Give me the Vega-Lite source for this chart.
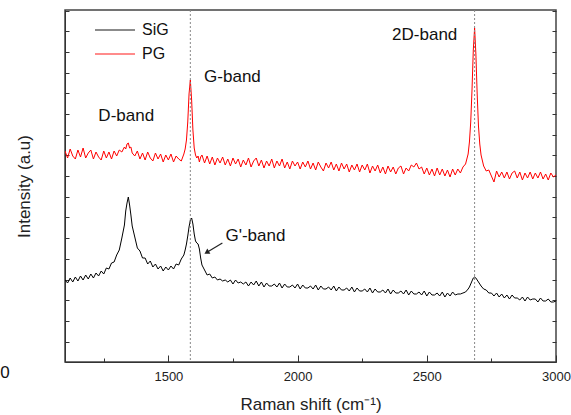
{
"$schema":"https://vega.github.io/schema/vega-lite/v6.json",
"width":491,"height":352,
"autosize":{"type":"none"},
"padding":{"left":65,"top":10,"right":15,"bottom":53},
"config":{"font":"Liberation Sans","view":{"stroke":"#444","strokeWidth":1.5},
 "axis":{"domainColor":"#333","tickColor":"#333","labelColor":"#222","titleColor":"#222","grid":false,"labelFontSize":13,"titleFontSize":17,"titleFontWeight":"normal"}},
"layer":[
{"data":{"values":[
{"x":1100,"PG":211,"SiG":82},{"x":1110,"PG":204,"SiG":79},{"x":1120,"PG":213,"SiG":84},{"x":1130,"PG":206,"SiG":80},{"x":1140,"PG":203,"SiG":85},{"x":1150,"PG":212,"SiG":81},{"x":1160,"PG":205,"SiG":86},{"x":1170,"PG":214,"SiG":82},{"x":1180,"PG":204,"SiG":87},{"x":1190,"PG":209,"SiG":83},
{"x":1200,"PG":212,"SiG":88},{"x":1210,"PG":203,"SiG":84},{"x":1220,"PG":210,"SiG":89},{"x":1230,"PG":205,"SiG":86},{"x":1240,"PG":202,"SiG":91},{"x":1250,"PG":211,"SiG":88},{"x":1260,"PG":204,"SiG":94},{"x":1270,"PG":210,"SiG":93},{"x":1280,"PG":203,"SiG":99},{"x":1290,"PG":211,"SiG":100},
{"x":1300,"PG":206,"SiG":107},{"x":1310,"PG":212,"SiG":112},{"x":1320,"PG":210,"SiG":124},{"x":1330,"PG":215,"SiG":137},{"x":1335,"PG":213,"SiG":151},{"x":1340,"PG":218,"SiG":159},{"x":1345,"PG":219,"SiG":165},{"x":1350,"PG":214,"SiG":157},{"x":1355,"PG":215,"SiG":147},{"x":1360,"PG":209,"SiG":136},
{"x":1370,"PG":206,"SiG":125},{"x":1380,"PG":211,"SiG":114},{"x":1390,"PG":203,"SiG":111},{"x":1400,"PG":209,"SiG":104},{"x":1410,"PG":202,"SiG":104},{"x":1420,"PG":210,"SiG":98},{"x":1430,"PG":204,"SiG":101},{"x":1440,"PG":201,"SiG":95},{"x":1450,"PG":209,"SiG":98},{"x":1460,"PG":203,"SiG":93},
{"x":1470,"PG":208,"SiG":96},{"x":1480,"PG":200,"SiG":91},{"x":1490,"PG":207,"SiG":95},{"x":1500,"PG":202,"SiG":92},{"x":1510,"PG":208,"SiG":96},{"x":1520,"PG":200,"SiG":93},{"x":1530,"PG":206,"SiG":98},{"x":1540,"PG":203,"SiG":97},{"x":1550,"PG":201,"SiG":103},{"x":1560,"PG":208,"SiG":107},
{"x":1565,"PG":213,"SiG":112},{"x":1570,"PG":222,"SiG":118},{"x":1575,"PG":240,"SiG":126},{"x":1580,"PG":268,"SiG":135},{"x":1585,"PG":282,"SiG":142},{"x":1590,"PG":262,"SiG":144},{"x":1595,"PG":232,"SiG":138},{"x":1600,"PG":214,"SiG":128},{"x":1605,"PG":207,"SiG":121},{"x":1610,"PG":204,"SiG":119},
{"x":1615,"PG":206,"SiG":118},{"x":1620,"PG":200,"SiG":113},{"x":1625,"PG":205,"SiG":104},{"x":1630,"PG":207,"SiG":97},{"x":1640,"PG":199,"SiG":92},{"x":1650,"PG":206,"SiG":87},{"x":1660,"PG":198,"SiG":88},{"x":1670,"PG":205,"SiG":84},{"x":1680,"PG":197,"SiG":85},{"x":1690,"PG":204,"SiG":82},
{"x":1700,"PG":199,"SiG":83},{"x":1710,"PG":205,"SiG":81},{"x":1720,"PG":197,"SiG":82},{"x":1730,"PG":203,"SiG":80},{"x":1740,"PG":196,"SiG":82},{"x":1750,"PG":204,"SiG":78},{"x":1760,"PG":198,"SiG":82},{"x":1770,"PG":203,"SiG":79},{"x":1780,"PG":195,"SiG":80},{"x":1790,"PG":202,"SiG":78},
{"x":1800,"PG":197,"SiG":80},{"x":1810,"PG":204,"SiG":76},{"x":1820,"PG":195,"SiG":80},{"x":1830,"PG":201,"SiG":77},{"x":1840,"PG":204,"SiG":81},{"x":1850,"PG":196,"SiG":76},{"x":1860,"PG":202,"SiG":80},{"x":1870,"PG":194,"SiG":75},{"x":1880,"PG":201,"SiG":79},{"x":1890,"PG":196,"SiG":76},
{"x":1900,"PG":203,"SiG":76},{"x":1910,"PG":194,"SiG":78},{"x":1920,"PG":201,"SiG":75},{"x":1930,"PG":196,"SiG":79},{"x":1940,"PG":203,"SiG":74},{"x":1950,"PG":194,"SiG":78},{"x":1960,"PG":200,"SiG":75},{"x":1970,"PG":193,"SiG":75},{"x":1980,"PG":201,"SiG":77},{"x":1990,"PG":196,"SiG":74},
{"x":2000,"PG":200,"SiG":78},{"x":2010,"PG":193,"SiG":73},{"x":2020,"PG":200,"SiG":77},{"x":2030,"PG":195,"SiG":74},{"x":2040,"PG":201,"SiG":74},{"x":2050,"PG":193,"SiG":76},{"x":2060,"PG":199,"SiG":73},{"x":2070,"PG":192,"SiG":77},{"x":2080,"PG":200,"SiG":72},{"x":2090,"PG":195,"SiG":76},
{"x":2100,"PG":191,"SiG":73},{"x":2110,"PG":199,"SiG":73},{"x":2120,"PG":194,"SiG":75},{"x":2130,"PG":200,"SiG":72},{"x":2140,"PG":192,"SiG":76},{"x":2150,"PG":198,"SiG":71},{"x":2160,"PG":191,"SiG":75},{"x":2170,"PG":199,"SiG":72},{"x":2180,"PG":193,"SiG":72},{"x":2190,"PG":198,"SiG":74},
{"x":2200,"PG":190,"SiG":71},{"x":2210,"PG":197,"SiG":75},{"x":2220,"PG":192,"SiG":70},{"x":2230,"PG":198,"SiG":74},{"x":2240,"PG":190,"SiG":71},{"x":2250,"PG":197,"SiG":71},{"x":2260,"PG":192,"SiG":73},{"x":2270,"PG":198,"SiG":70},{"x":2280,"PG":189,"SiG":74},{"x":2290,"PG":196,"SiG":69},
{"x":2300,"PG":191,"SiG":73},{"x":2310,"PG":197,"SiG":70},{"x":2320,"PG":189,"SiG":70},{"x":2330,"PG":195,"SiG":72},{"x":2340,"PG":188,"SiG":69},{"x":2350,"PG":196,"SiG":73},{"x":2360,"PG":190,"SiG":68},{"x":2370,"PG":195,"SiG":72},{"x":2380,"PG":188,"SiG":69},{"x":2390,"PG":194,"SiG":69},
{"x":2400,"PG":196,"SiG":71},{"x":2410,"PG":188,"SiG":68},{"x":2420,"PG":194,"SiG":72},{"x":2430,"PG":191,"SiG":67},{"x":2440,"PG":197,"SiG":71},{"x":2450,"PG":195,"SiG":68},{"x":2460,"PG":199,"SiG":68},{"x":2470,"PG":193,"SiG":70},{"x":2480,"PG":195,"SiG":67},{"x":2490,"PG":188,"SiG":71},
{"x":2500,"PG":194,"SiG":66},{"x":2510,"PG":187,"SiG":70},{"x":2520,"PG":193,"SiG":67},{"x":2530,"PG":186,"SiG":67},{"x":2540,"PG":194,"SiG":69},{"x":2550,"PG":187,"SiG":66},{"x":2560,"PG":193,"SiG":70},{"x":2570,"PG":186,"SiG":65},{"x":2580,"PG":192,"SiG":69},{"x":2590,"PG":185,"SiG":66},
{"x":2600,"PG":193,"SiG":70},{"x":2610,"PG":187,"SiG":67},{"x":2620,"PG":193,"SiG":68},{"x":2630,"PG":189,"SiG":68},{"x":2640,"PG":195,"SiG":69},{"x":2650,"PG":198,"SiG":70},{"x":2660,"PG":208,"SiG":73},{"x":2665,"PG":220,"SiG":75},{"x":2670,"PG":240,"SiG":78},{"x":2675,"PG":272,"SiG":81},
{"x":2680,"PG":312,"SiG":84},{"x":2685,"PG":334,"SiG":85},{"x":2690,"PG":308,"SiG":84},{"x":2695,"PG":268,"SiG":82},{"x":2700,"PG":236,"SiG":80},{"x":2705,"PG":218,"SiG":78},{"x":2710,"PG":207,"SiG":76},{"x":2720,"PG":196,"SiG":73},{"x":2730,"PG":191,"SiG":72},{"x":2740,"PG":192,"SiG":69},
{"x":2750,"PG":186,"SiG":69},{"x":2760,"PG":180,"SiG":66},{"x":2770,"PG":191,"SiG":69},{"x":2780,"PG":185,"SiG":65},{"x":2790,"PG":190,"SiG":68},{"x":2800,"PG":184,"SiG":64},{"x":2810,"PG":190,"SiG":67},{"x":2820,"PG":183,"SiG":63},{"x":2830,"PG":189,"SiG":67},{"x":2840,"PG":191,"SiG":64},
{"x":2850,"PG":184,"SiG":64},{"x":2860,"PG":190,"SiG":62},{"x":2870,"PG":182,"SiG":65},{"x":2880,"PG":189,"SiG":61},{"x":2890,"PG":184,"SiG":65},{"x":2900,"PG":190,"SiG":62},{"x":2910,"PG":183,"SiG":63},{"x":2920,"PG":189,"SiG":63},{"x":2930,"PG":184,"SiG":60},{"x":2940,"PG":190,"SiG":64},
{"x":2950,"PG":183,"SiG":61},{"x":2960,"PG":188,"SiG":61},{"x":2970,"PG":182,"SiG":63},{"x":2980,"PG":189,"SiG":60},{"x":2990,"PG":185,"SiG":60},{"x":3000,"PG":187,"SiG":61}
]},
"transform":[{"fold":["SiG","PG"],"as":["series","intensity"]}],
"mark":{"type":"line","strokeWidth":1,"clip":true},
"encoding":{
 "x":{"field":"x","type":"quantitative","scale":{"domain":[1100,3000],"nice":false,"zero":false},
  "axis":{"orient":"bottom","values":[1500,2000,2500,3000],"format":"d","tickSize":-7,"labelPadding":15,"title":"Raman shift (cm⁻¹)","titlePadding":13,"labelFlush":false,"labelOverlap":false}},
 "y":{"field":"intensity","type":"quantitative","scale":{"domain":[0,352],"nice":false,"zero":false},
  "axis":{"orient":"left","labels":false,"tickSize":-4,"values":[20,41,62,82,103,124,145,165,186,207,227,248,269,289,310,331,351],"title":"Intensity (a.u)","titlePadding":31}},
 "color":{"field":"series","type":"nominal","scale":{"domain":["SiG","PG"],"range":["#000000","#ff0000"]},
  "legend":{"orient":"none","legendX":29,"legendY":12,"title":null,"symbolType":"stroke","symbolSize":1600,"symbolStrokeWidth":2,"symbolOpacity":0.45,"labelFontSize":16,"labelColor":"#111","clipHeight":16,"rowPadding":8,"labelOffset":6}}
}},
{"data":{"values":[{"x":1585},{"x":2685}]},
"mark":{"type":"rule","strokeDash":[2,2],"color":"#888","strokeWidth":1},
"encoding":{"x":{"field":"x","type":"quantitative","scale":{"domain":[1100,3000],"nice":false,"zero":false},
 "axis":{"orient":"bottom","values":[1250,1750,2250,2750],"labels":false,"domain":false,"tickSize":-4,"title":null}}}},
{"data":{"values":[{"x":1709,"y":119,"x2":1651,"y2":110}]},
"mark":{"type":"rule","color":"#222","strokeWidth":1.2},
"encoding":{"x":{"field":"x","type":"quantitative","scale":{"domain":[1100,3000],"nice":false,"zero":false},"axis":null},
 "y":{"field":"y","type":"quantitative","scale":{"domain":[0,352],"nice":false,"zero":false},
  "axis":{"orient":"right","labels":false,"domain":false,"tickSize":-4,"values":[20,41,62,82,103,124,145,165,186,207,227,248,269,289,310,331,351],"title":null}},
 "x2":{"field":"x2"},"y2":{"field":"y2"}}},
{"data":{"values":[{"x":1651,"y":110}]},
"mark":{"type":"point","shape":"triangle","filled":true,"color":"#222","size":35,"angle":239,"opacity":1},
"encoding":{"x":{"field":"x","type":"quantitative","scale":{"domain":[1100,3000],"nice":false,"zero":false},"axis":null},
 "y":{"field":"y","type":"quantitative","scale":{"domain":[0,352],"nice":false,"zero":false},"axis":null}}},
{"data":{"values":[{"x":1337,"y":246,"t":"D-band"},{"x":1748,"y":285,"t":"G-band"},{"x":2492,"y":327,"t":"2D-band"},{"x":1837,"y":126,"t":"G'-band"},{"x":868,"y":-11,"t":"0"}]},
"mark":{"type":"text","fontSize":17,"color":"#111","align":"center","baseline":"middle"},
"encoding":{"x":{"field":"x","type":"quantitative","scale":{"domain":[1100,3000],"nice":false,"zero":false},"axis":null},
 "y":{"field":"y","type":"quantitative","scale":{"domain":[0,352],"nice":false,"zero":false},"axis":null},
 "text":{"field":"t"}}}
],
"resolve":{"axis":{"x":"independent","y":"independent"}}
}
